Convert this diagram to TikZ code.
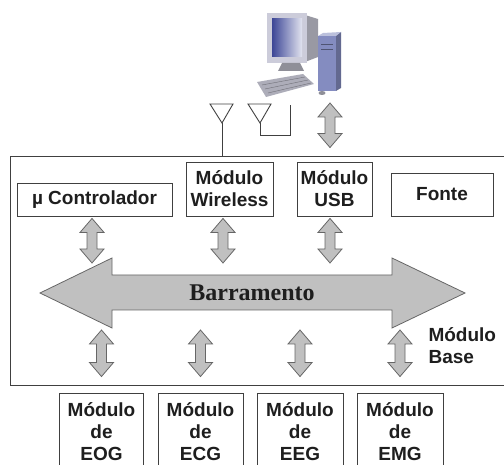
\documentclass[tikz,border=0pt]{standalone}
\usepackage{fontspec}
\setmainfont{Liberation Sans}
\newfontfamily\busfont{Liberation Serif}
\usetikzlibrary{calc}
\definecolor{linegray}{RGB}{64,64,64}
\definecolor{arrowgray}{RGB}{192,192,192}
\definecolor{textdark}{RGB}{30,30,30}
\definecolor{bezel}{RGB}{204,204,218}
\definecolor{screenblue}{RGB}{60,70,150}
\definecolor{towerblue}{RGB}{132,140,192}

\tikzset{
  modtext/.style={text=textdark, font=\fontsize{19}{22}\selectfont\bfseries},
  modbox/.style={modtext, draw=linegray, line width=0.9pt, fill=white, align=center, inner sep=0pt},
  blockarrow/.style={draw=black!60, fill=arrowgray, line width=0.8pt, line join=miter},
  antenna/.style={draw=linegray, line width=0.9pt},
}
% vertical two-headed block arrow: x and top from #1, bottom from #2
\newcommand{\updown}[2]{%
  \draw[blockarrow] let \p1=(#1), \p2=(#2) in
    (\x1,\y1) -- (\x1+12pt,\y1-14pt) -- (\x1+5pt,\y1-14pt) -- (\x1+5pt,\y2+14pt)
    -- (\x1+12pt,\y2+14pt) -- (\x1,\y2) -- (\x1-12pt,\y2+14pt) -- (\x1-5pt,\y2+14pt)
    -- (\x1-5pt,\y1-14pt) -- (\x1-12pt,\y1-14pt) -- cycle;}

\begin{document}
\begin{tikzpicture}[x=1pt,y=-1pt]
  \useasboundingbox (0,0) rectangle (504,465);

  % Computer
  \fill[bezel!75!black] (305,15) -- (318,19) -- (318,57) -- (305,62) -- cycle;
  \fill[bezel] (267,13) rectangle (307,63);
  \shade[shading=axis, shading angle=135, left color=screenblue, right color=screenblue!15] (272,19) rectangle (302,57);
  \fill[bezel!70!black] (282,63) -- (300,63) -- (304,71) -- (278,71) -- cycle;
  \fill[towerblue!75!black] (336,34) -- (341,32) -- (341,88) -- (336,91) -- cycle;
  \fill[towerblue] (318,36) rectangle (336,91);
  \fill[towerblue!55] (318,36) -- (323,33) -- (341,32) -- (336,36) -- cycle;
  \draw[towerblue!60!black, line width=0.6pt] (321,44) -- (333,44) (321,49) -- (333,49);
  \fill[bezel!85!black] (257,82) -- (303,74) -- (314,84) -- (266,97) -- cycle;
  \draw[bezel!55!black, line width=0.4pt] (262,85) -- (305,77) (265,89) -- (308,80) (268,93) -- (311,83);
  \fill[bezel!70!black] (322,93) ellipse (3.5 and 2);
  \coordinate (pcport) at (330,103);

  % Antennas
  \coordinate (ant1) at (222,123);
  \coordinate (ant2) at (260,123);
  \draw[antenna] (210,104) -- (233,104) -- (ant1) -- cycle;
  \draw[antenna] (248,104) -- (271,104) -- (ant2) -- cycle;
  \draw[antenna] (ant2) -- (260,135) -- (290,135) -- (290,105);

  % Base module
  \node[draw=linegray, line width=0.9pt, minimum width=496pt, minimum height=229pt, inner sep=0pt] (base) at (258,270.5) {};
  \node[modtext, align=left, anchor=west] (baselabel) at (425,346) {Módulo\\Base};
  \draw[antenna] (ant1) -- (ant1 |- base.north);

  \node[modbox, minimum width=155pt, minimum height=33pt] (ctrl) at (94.5,199.5) {µ Controlador};
  \node[modbox, minimum width=87pt, minimum height=54pt] (wless) at (229.5,189) {Módulo\\Wireless};
  \node[modbox, minimum width=75pt, minimum height=54pt] (usb) at (334.5,189) {Módulo\\USB};
  \node[modbox, minimum width=102pt, minimum height=43pt] (fonte) at (442,194.5) {Fonte};

  % Bus
  \draw[blockarrow] (40,293) -- (112,258) -- (112,275) -- (392,275) -- (392,258)
    -- (465,293) -- (392,328) -- (392,310) -- (112,310) -- (112,328) -- cycle;
  \node[font=\busfont\fontsize{24}{24}\selectfont\bfseries, text=textdark] (bus) at (252,293) {Barramento};
  \coordinate (bustop) at (252,263);
  \coordinate (busbot) at (252,330);

  % Acquisition modules
  \node[modbox, minimum width=84pt, minimum height=77pt] (eog) at (101.5,431.5) {Módulo\\de\\EOG};
  \node[modbox, minimum width=85pt, minimum height=77pt] (ecg) at (200.5,431.5) {Módulo\\de\\ECG};
  \node[modbox, minimum width=86pt, minimum height=77pt] (eeg) at (300,431.5) {Módulo\\de\\EEG};
  \node[modbox, minimum width=86pt, minimum height=77pt] (emg) at (400,431.5) {Módulo\\de\\EMG};

  % Links
  \updown{pcport}{[yshift=8pt]base.north}
  \updown{[xshift=-2.5pt,yshift=-2pt]ctrl.south}{bustop}
  \updown{[xshift=-6.5pt,yshift=-2pt]wless.south}{bustop}
  \updown{[xshift=-4.5pt,yshift=-2pt]usb.south}{bustop}
  \updown{eog.north |- busbot}{[yshift=16pt]eog.north}
  \updown{ecg.north |- busbot}{[yshift=16pt]ecg.north}
  \updown{eeg.north |- busbot}{[yshift=16pt]eeg.north}
  \updown{emg.north |- busbot}{[yshift=16pt]emg.north}
\end{tikzpicture}
\end{document}
